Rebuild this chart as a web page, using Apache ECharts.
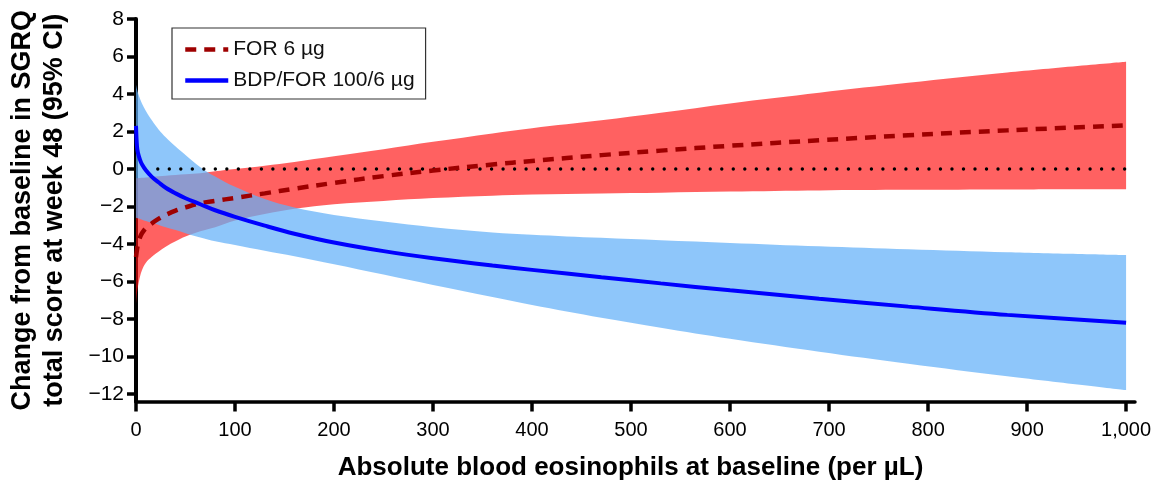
<!DOCTYPE html>
<html>
<head>
<meta charset="utf-8">
<script src="https://cdn.jsdelivr.net/npm/echarts@6/dist/echarts.min.js"></script>
<style>
html,body{margin:0;padding:0;background:#fff;}
#chart{width:1156px;height:483px;}
</style>
</head>
<body>
<div id="chart"></div>
<script>
// ---- data ----
const xs       = [0, 1, 2, 4, 6, 10, 16, 23, 30, 40, 50, 65, 80, 100, 130, 160, 200, 250, 300, 360, 400, 470, 530, 600, 690, 780, 880, 1000];
const forMean  = [-4.7, -4.3, -4.0, -3.65, -3.43, -3.15, -2.9, -2.65, -2.45, -2.22, -2.05, -1.83, -1.7, -1.54, -1.3, -1.05, -0.74, -0.38, -0.08, 0.24, 0.43, 0.74, 0.98, 1.24, 1.53, 1.8, 2.06, 2.33];
const forLower = [-7.2, -6.6, -6.25, -5.75, -5.4, -5.0, -4.68, -4.4, -4.14, -3.85, -3.6, -3.32, -3.1, -2.75, -2.4, -2.12, -1.88, -1.7, -1.55, -1.42, -1.36, -1.3, -1.26, -1.2, -1.14, -1.11, -1.09, -1.08];
const forUpper = [-0.5, -0.49, -0.49, -0.48, -0.47, -0.45, -0.42, -0.39, -0.36, -0.32, -0.28, -0.22, -0.12, 0.0, 0.18, 0.38, 0.68, 1.06, 1.45, 1.9, 2.18, 2.6, 3.0, 3.5, 4.07, 4.6, 5.15, 5.72];
const bdpMean  = [2.3, 1.2, 0.85, 0.5, 0.25, -0.07, -0.42, -0.72, -1.0, -1.3, -1.56, -1.88, -2.2, -2.55, -3.02, -3.45, -3.92, -4.38, -4.76, -5.15, -5.38, -5.77, -6.1, -6.47, -6.92, -7.34, -7.78, -8.2];
const bdpLower = [-2.6, -2.62, -2.63, -2.67, -2.7, -2.77, -2.87, -2.98, -3.1, -3.25, -3.42, -3.65, -3.85, -4.05, -4.36, -4.65, -5.08, -5.63, -6.18, -6.83, -7.25, -7.93, -8.46, -9.05, -9.74, -10.38, -11.05, -11.79];
const bdpUpper = [4.5, 4.25, 4.05, 3.75, 3.5, 3.1, 2.6, 2.1, 1.7, 1.2, 0.75, 0.1, -0.4, -0.95, -1.6, -2.05, -2.45, -2.8, -3.1, -3.38, -3.5, -3.67, -3.8, -3.94, -4.12, -4.28, -4.44, -4.59];
const zeroLineX = [22, 1002];

const xTicks      = [0, 100, 200, 300, 400, 500, 600, 700, 800, 900, 1000];
const xTickLabels = ['0', '100', '200', '300', '400', '500', '600', '700', '800', '900', '1,000'];
const yTicks      = [-12, -10, -8, -6, -4, -2, 0, 2, 4, 6, 8];
const yTickLabels = ['\u221212', '\u221210', '\u22128', '\u22126', '\u22124', '\u22122', '0', '2', '4', '6', '8'];

const seriesNames = ['FOR 6 \u00b5g', 'BDP/FOR 100/6 \u00b5g'];
const xTitle = 'Absolute blood eosinophils at baseline (per \u00b5L)';
const yTitle = 'Change from baseline in SGRQ\ntotal score at week 48 (95% CI)';

// ---- build ----
const FONT = '"Liberation Sans", Arial, Helvetica, sans-serif';
const pairs = (arr) => xs.map((x, i) => [x, arr[i]]);
// band rows are [y, x] so that the stacked dimension is the y value
const bandBase = (lo) => xs.map((x, i) => [lo[i], x]);
const bandDiff = (hi, lo) => xs.map((x, i) => [+(hi[i] - lo[i]).toFixed(3), x]);
const SMOOTH = 0.35;

function bandSeries(stackName, lo, hi, color) {
  return [
    {
      name: stackName + 'Base', type: 'line', stack: stackName, stackStrategy: 'all',
      symbol: 'none', silent: true, smooth: SMOOTH, encode: {x: 1, y: 0},
      data: bandBase(lo), lineStyle: {width: 0, opacity: 0}
    },
    {
      name: stackName + 'Area', type: 'line', stack: stackName, stackStrategy: 'all',
      symbol: 'none', silent: true, smooth: SMOOTH, encode: {x: 1, y: 0},
      data: bandDiff(hi, lo), lineStyle: {width: 0, opacity: 0},
      areaStyle: {color: color, opacity: 1}
    }
  ];
}

const chart = echarts.init(document.getElementById('chart'), null, {renderer: 'canvas'});
chart.setOption({
  animation: false,
  backgroundColor: '#fff',
  grid: {left: 136, right: 21, top: 19, bottom: 81.5, containLabel: false, outerBoundsMode: 'none'},
  legend: {
    data: seriesNames,
    orient: 'vertical',
    left: 172, top: 28,
    padding: [11, 11, 8, 11],
    itemWidth: 43, itemHeight: 20, itemGap: 10,
    borderColor: '#333', borderWidth: 1.2, borderRadius: 0,
    backgroundColor: '#fff',
    selectedMode: false,
    itemStyle: {opacity: 0},
    lineStyle: {width: 4.5},
    textStyle: {fontFamily: FONT, fontSize: 21, color: '#111'}
  },
  xAxis: {
    type: 'value', min: 0, max: 1009,
    name: xTitle, nameLocation: 'middle', nameGap: 53,
    nameTextStyle: {fontFamily: FONT, fontSize: 26, fontWeight: 'bold', color: '#000', padding: [0, 10, 0, 0]},
    axisLine: {onZero: false, lineStyle: {color: '#000', width: 3.5}},
    axisTick: {show: true, length: 10, lineStyle: {color: '#000', width: 3.5}, customValues: xTicks},
    axisLabel: {customValues: xTicks, margin: 19, fontFamily: FONT, fontSize: 20, color: '#000',
      formatter: (v) => xTickLabels[xTicks.indexOf(Math.round(v))]},
    splitLine: {show: false}
  },
  yAxis: {
    type: 'value', min: -12.4, max: 8,
    name: yTitle, nameLocation: 'middle', nameGap: 65, nameRotate: 90,
    nameTextStyle: {fontFamily: FONT, fontSize: 27, fontWeight: 'bold', color: '#000', lineHeight: 32, align: 'center'},
    axisLine: {onZero: false, lineStyle: {color: '#000', width: 4}},
    axisTick: {show: true, length: 9, lineStyle: {color: '#000', width: 3.5}, customValues: yTicks},
    axisLabel: {customValues: yTicks, margin: 12, fontFamily: FONT, fontSize: 21, color: '#000',
      formatter: (v) => yTickLabels[yTicks.indexOf(Math.round(v))]},
    splitLine: {show: false}
  },
  series: [
    {
      name: 'zero', type: 'line', symbol: 'none', silent: true,
      data: zeroLineX.map((x) => [x, 0]),
      lineStyle: {color: '#000', width: 3.4, type: [0.01, 11.5], cap: 'round'}
    },
    ...bandSeries('forBand', forLower, forUpper, 'rgba(255,13,13,0.65)'),
    ...bandSeries('bdpBand', bdpLower, bdpUpper, 'rgba(98,176,248,0.72)'),
    {
      name: seriesNames[0], type: 'line', symbol: 'none', smooth: SMOOTH,
      data: pairs(forMean),
      itemStyle: {color: '#9E0000'},
      lineStyle: {color: '#9E0000', width: 4.5, type: [11, 8]}
    },
    {
      name: seriesNames[1], type: 'line', symbol: 'none', smooth: SMOOTH,
      data: pairs(bdpMean),
      itemStyle: {color: '#0000FF'},
      lineStyle: {color: '#0000FF', width: 4}
    }
  ]
});
</script>
</body>
</html>
